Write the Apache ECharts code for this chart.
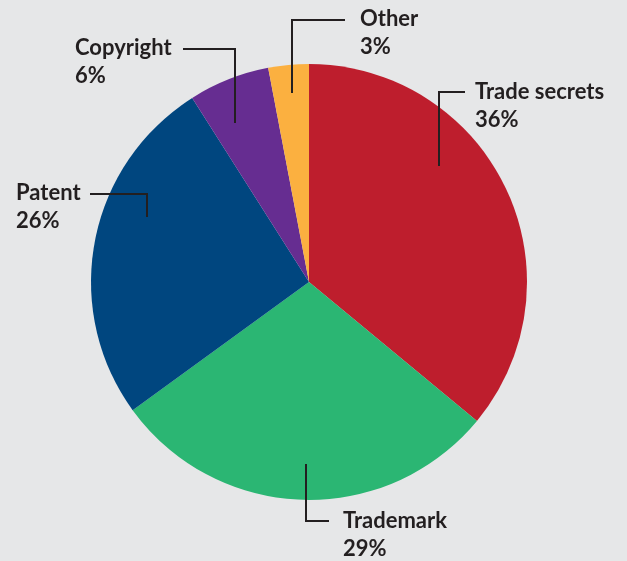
<!DOCTYPE html>
<html>
<head>
<meta charset="utf-8">
<script src="https://cdn.jsdelivr.net/npm/echarts@6/dist/echarts.min.js"></script>
<style>
  html, body { margin: 0; padding: 0; background: #E6E7E8; }
  #chart { width: 627px; height: 561px; }
</style>
</head>
<body>
<div id="chart"></div>
<script>
// slices, clockwise from 12 o'clock
const categories = ['Trade secrets', 'Trademark', 'Patent', 'Copyright', 'Other'];
const shares = [36, 29, 26, 6, 3];
const colors = ['#BE1E2D', '#2BB673', '#00467F', '#662D91', '#FBB040'];

// label boxes (top-left) and leader lines: anchor in slice -> elbow -> near text
const labelPos = [[475, 78], [343, 507], [16, 179], [75, 34], [360, 5]];
const leaderLines = [
  [[439, 166], [439, 92], [465, 92]],
  [[306, 464], [306, 521], [329, 521]],
  [[147, 217], [147, 194], [90, 194]],
  [[235, 123], [235, 49], [183, 49]],
  [[292, 93], [292, 20], [345, 20]]
];

const chart = echarts.init(document.getElementById('chart'));

chart.setOption({
  backgroundColor: '#E6E7E8',
  animation: false,
  // leader lines drawn on top of the slices
  graphic: leaderLines.map(pts => ({
    type: 'polyline',
    z: 100,
    shape: { points: pts },
    style: { stroke: '#231F20', lineWidth: 2, fill: null }
  })),
  series: [{
    type: 'pie',
    center: [309, 282],
    radius: [0, 218],
    startAngle: 90,
    clockwise: true,
    avoidLabelOverlap: false,
    data: categories.map((name, i) => ({
      name: name,
      value: shares[i],
      itemStyle: { color: colors[i] }
    })),
    itemStyle: { borderWidth: 0 },
    label: {
      show: true,
      position: 'outside',
      formatter: '{b}\n{c}%',
      color: '#231F20',
      fontFamily: 'Lato',
      fontWeight: 'bold',
      fontSize: 22,
      lineHeight: 28,
      align: 'left'
    },
    labelLine: { show: false },
    labelLayout: function (params) {
      const i = params.dataIndex;
      return {
        x: labelPos[i][0],
        y: labelPos[i][1],
        align: 'left',
        verticalAlign: 'top'
      };
    }
  }]
});
</script>
</body>
</html>
